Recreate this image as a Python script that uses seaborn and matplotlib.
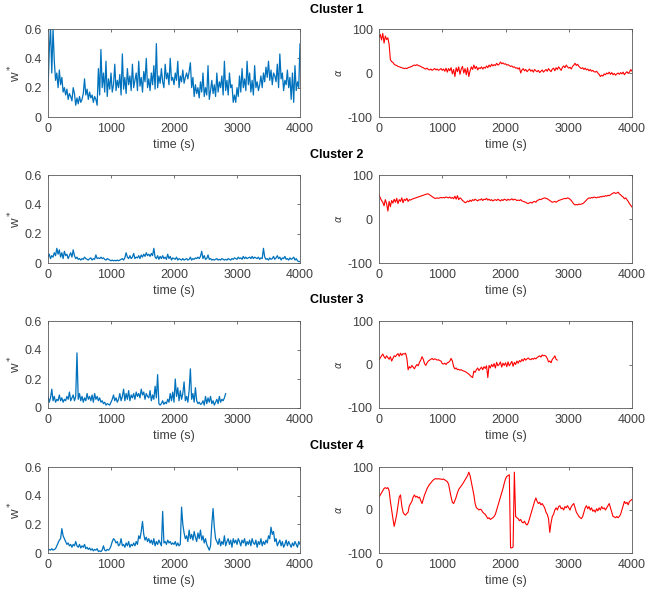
import numpy as np
import pandas as pd
import matplotlib
matplotlib.use("Agg")
import matplotlib.pyplot as plt
import seaborn as sns

# ---------------- data ----------------
t_full = np.arange(0, 4001, 20)
t_c3 = np.arange(0, 2821, 20)

w_c1 = [0.18, 0.45, 0.62, 0.3, 0.6, 0.38, 0.25, 0.3, 0.2, 0.32,
        0.22, 0.27, 0.17, 0.2, 0.15, 0.19, 0.12, 0.16, 0.14, 0.11,
        0.2, 0.16, 0.08, 0.13, 0.09, 0.14, 0.1, 0.12, 0.16, 0.26,
        0.15, 0.19, 0.12, 0.17, 0.13, 0.15, 0.1, 0.14, 0.12, 0.08,
        0.33, 0.15, 0.46, 0.2, 0.3, 0.17, 0.38, 0.14, 0.26, 0.19,
        0.3, 0.17, 0.22, 0.36, 0.18, 0.25, 0.2, 0.29, 0.15, 0.43,
        0.19, 0.27, 0.16, 0.33, 0.22, 0.28, 0.18, 0.36, 0.2, 0.25,
        0.3, 0.18, 0.38, 0.21, 0.27, 0.17, 0.31, 0.24, 0.4, 0.2,
        0.26, 0.18, 0.3, 0.22, 0.35, 0.19, 0.5, 0.2, 0.28, 0.23,
        0.33, 0.24, 0.2, 0.36, 0.26, 0.3, 0.22, 0.4, 0.25, 0.27,
        0.22, 0.3, 0.25, 0.38, 0.2, 0.28, 0.24, 0.32, 0.23, 0.27,
        0.3, 0.26, 0.31, 0.37, 0.2, 0.27, 0.14, 0.22, 0.16, 0.2,
        0.13, 0.24, 0.17, 0.3, 0.14, 0.2, 0.15, 0.35, 0.12, 0.18,
        0.25, 0.16, 0.22, 0.14, 0.3, 0.17, 0.24, 0.2, 0.28, 0.15,
        0.38, 0.18, 0.25, 0.15, 0.3, 0.2, 0.22, 0.1, 0.15, 0.1,
        0.2, 0.14, 0.28, 0.17, 0.33, 0.2, 0.26, 0.18, 0.38, 0.22,
        0.3, 0.17, 0.25, 0.15, 0.35, 0.2, 0.24, 0.18, 0.22, 0.28,
        0.2, 0.3, 0.24, 0.34, 0.27, 0.38, 0.25, 0.32, 0.22, 0.3,
        0.28, 0.24, 0.36, 0.2, 0.43, 0.26, 0.3, 0.18, 0.25, 0.22,
        0.32, 0.2, 0.27, 0.12, 0.3, 0.1, 0.35, 0.18, 0.24, 0.2,
        0.5]

a_c1 = [80, 88, 75, 90, 68, 84, 76, 80, 65, 30,
        26, 24, 20, 18, 17, 15, 14, 13, 12, 11,
        10, 11, 10, 12, 13, 14, 15, 17, 18, 17,
        19, 17, 16, 15, 13, 12, 10, 9, 11, 8,
        7, 9, 6, 8, 10, 7, 9, 6, 8, 10,
        6, 9, 4, 11, 2, 10, 5, 12, -2, 8,
        -8, 12, 3, 14, -3, 9, 15, 0, 10, -4,
        12, -8, 5, 14, 8, 18, 10, 15, 7, 12,
        10, 14, 9, 13, 11, 16, 12, 18, 14, 20,
        16, 19, 17, 22, 18, 20, 25, 21, 23, 20,
        21, 18, 19, 17, 15, 16, 13, 14, 11, 12,
        9, 12, 0, 7, 10, 5, 8, 3, 6, 9,
        4, 7, 2, 8, 5, 3, 6, 1, 4, 7,
        2, 5, 8, 4, 10, 6, 3, 9, 11, 5,
        12, 8, 14, 10, 6, 13, 16, 12, 18, 14,
        11, 13, 9, 15, 18, 22, 17, 20, 15, 12,
        10, 12, 8, 11, 7, 9, 5, 8, 4, 6,
        3, 2, 4, 0, -3, -8, -5, -7, -2, -4,
        0, -2, 2, -3, 1, -4, -1, -5, -2, 0,
        -3, 1, -2, 2, -4, 0, 3, -1, 2, 8,
        4]

w_c2 = [0.04, 0.06, 0.03, 0.05, 0.04, 0.07, 0.05, 0.1, 0.06, 0.09,
        0.04, 0.07, 0.03, 0.08, 0.05, 0.06, 0.03, 0.05, 0.07, 0.04,
        0.09, 0.05, 0.03, 0.04, 0.025, 0.03, 0.02, 0.03, 0.025, 0.04,
        0.03, 0.025, 0.02, 0.03, 0.035, 0.02, 0.03, 0.025, 0.055, 0.03,
        0.035, 0.03, 0.04, 0.03, 0.035, 0.025, 0.02, 0.03, 0.025, 0.02,
        0.015, 0.02, 0.015, 0.018, 0.015, 0.02, 0.015, 0.02, 0.025, 0.03,
        0.02, 0.035, 0.07, 0.04, 0.03, 0.05, 0.03, 0.04, 0.065, 0.03,
        0.04, 0.035, 0.05, 0.03, 0.055, 0.04, 0.06, 0.045, 0.07, 0.05,
        0.06, 0.045, 0.065, 0.05, 0.1, 0.04, 0.03, 0.05, 0.025, 0.045,
        0.03, 0.05, 0.03, 0.04, 0.025, 0.06, 0.03, 0.045, 0.02, 0.035,
        0.03, 0.025, 0.04, 0.02, 0.03, 0.025, 0.02, 0.03, 0.02, 0.025,
        0.03, 0.02, 0.025, 0.04, 0.02, 0.03, 0.025, 0.035, 0.03, 0.04,
        0.03, 0.045, 0.08, 0.03, 0.05, 0.025, 0.03, 0.055, 0.025, 0.03,
        0.02, 0.025, 0.02, 0.025, 0.03, 0.02, 0.025, 0.02, 0.03, 0.025,
        0.02, 0.025, 0.02, 0.03, 0.025, 0.02, 0.03, 0.025, 0.035, 0.03,
        0.025, 0.04, 0.03, 0.035, 0.025, 0.045, 0.03, 0.04, 0.03, 0.035,
        0.04, 0.03, 0.045, 0.03, 0.04, 0.035, 0.03, 0.04, 0.025, 0.035,
        0.03, 0.1, 0.04, 0.025, 0.03, 0.02, 0.035, 0.025, 0.03, 0.045,
        0.025, 0.035, 0.05, 0.03, 0.04, 0.02, 0.035, 0.03, 0.045, 0.025,
        0.03, 0.02, 0.035, 0.025, 0.03, 0.04, 0.02, 0.03, 0.015, 0.01,
        0.01]

a_c2 = [55, 48, 42, 38, 30, 44, 35, 18, 40, 28,
        42, 36, 45, 38, 47, 35, 44, 40, 48, 37,
        45, 42, 47, 40, 44, 43, 45, 46, 47, 48,
        49, 50, 51, 52, 53, 54, 55, 56, 57, 57,
        55, 53, 51, 49, 47, 47, 48, 47, 48, 49,
        48, 49, 48, 50, 49, 48, 50, 47, 49, 46,
        52, 45, 53, 44, 48, 46, 42, 40, 37, 38,
        41, 39, 43, 40, 44, 42, 45, 43, 41, 44,
        43, 46, 42, 45, 44, 47, 43, 45, 42, 44,
        41, 43, 44, 42, 45, 43, 41, 44, 42, 45,
        44, 42, 45, 43, 44, 46, 43, 45, 44, 42,
        43, 42, 44, 41, 40, 39, 38, 36, 35, 37,
        38, 36, 39, 40, 38, 42, 43, 45, 44, 46,
        47, 48, 47, 46, 44, 42, 40, 38, 39, 40,
        38, 40, 42, 43, 44, 45, 46, 47, 46, 48,
        47, 45, 42, 38, 34, 32, 33, 32, 34, 33,
        34, 35, 37, 40, 43, 46, 48, 47, 49, 48,
        50, 49, 48, 50, 49, 51, 50, 52, 51, 53,
        52, 54, 53, 55, 57, 59, 60, 58, 59, 61,
        57, 55, 52, 50, 46, 48, 44, 40, 35, 31,
        27]

w_c3 = [0.08, 0.04, 0.07, 0.13, 0.05, 0.08, 0.04, 0.06, 0.05, 0.09,
        0.05, 0.07, 0.04, 0.06, 0.05, 0.08, 0.06, 0.11, 0.05, 0.07,
        0.09, 0.05, 0.08, 0.38, 0.06, 0.1, 0.05, 0.08, 0.04, 0.07,
        0.05, 0.1, 0.06, 0.08, 0.05, 0.09, 0.04, 0.1, 0.06, 0.08,
        0.05, 0.07, 0.04, 0.05, 0.03, 0.04, 0.02, 0.03, 0.025, 0.02,
        0.04, 0.06, 0.09, 0.05, 0.07, 0.04, 0.06, 0.1, 0.05, 0.08,
        0.13, 0.05, 0.1, 0.06, 0.12, 0.05, 0.09, 0.07, 0.1, 0.06,
        0.11, 0.08, 0.1, 0.07, 0.13, 0.09, 0.11, 0.06, 0.1, 0.08,
        0.07, 0.12, 0.05, 0.09, 0.06, 0.15, 0.07, 0.23, 0.03, 0.02,
        0.03, 0.05, 0.025, 0.04, 0.03, 0.06, 0.04, 0.1, 0.05, 0.11,
        0.04, 0.2, 0.08, 0.14, 0.05, 0.12, 0.06, 0.1, 0.18, 0.05,
        0.08, 0.04, 0.12, 0.27, 0.06, 0.1, 0.04, 0.14, 0.05, 0.03,
        0.04, 0.025, 0.03, 0.05, 0.02, 0.08, 0.03, 0.07, 0.04, 0.08,
        0.03, 0.05, 0.02, 0.04, 0.06, 0.03, 0.08, 0.04, 0.06, 0.05,
        0.07, 0.1]

a_c3 = [10, 15, 20, 24, 18, 14, 20, 16, 12, 18,
        8, 14, 20, 18, 22, 25, 19, 26, 21, 25,
        24, 26, 15, -12, -5, -8, -2, -6, -10, -4,
        0, -3, 5, 10, 18, 12, 2, -2, 4, 8,
        10, 12, 14, 11, 13, 12, 10, 11, 9, 8,
        2, 1, 3, 0, 4, 5, 8, 14, 8, -5,
        -10, -8, -12, -11, -13, -12, -14, -15, -16, -18,
        -20, -22, -25, -28, -30, -15, -18, -12, -8, -14,
        -10, -6, -12, -5, -9, -3, -30, -2, -8, 0,
        -5, 2, -8, 5, -3, 0, 6, -6, 3, -2,
        4, -5, 6, -3, 2, 7, -4, 5, 0, 8,
        3, 9, 6, 12, 8, 14, 10, 13, 15, 12,
        11, 14, 12, 15, 13, 16, 18, 20, 17, 22,
        20, 21, 19, 14, 6, 8, 4, 12, 15, 20,
        12, 10]

w_c4 = [0.02, 0.025, 0.02, 0.03, 0.02, 0.025, 0.03, 0.05, 0.07, 0.09,
        0.1, 0.17, 0.12, 0.1, 0.08, 0.06, 0.07, 0.05, 0.06, 0.04,
        0.06, 0.05, 0.08, 0.05, 0.04, 0.06, 0.035, 0.05, 0.04, 0.06,
        0.03, 0.04, 0.025, 0.035, 0.02, 0.03, 0.015, 0.025, 0.02, 0.03,
        0.01, 0.015, 0.01, 0.02, 0.05, 0.02, 0.015, 0.025, 0.02, 0.03,
        0.05, 0.08, 0.1, 0.09, 0.07, 0.08, 0.05, 0.06, 0.1, 0.05,
        0.06, 0.04, 0.07, 0.05, 0.08, 0.04, 0.06, 0.05, 0.07, 0.05,
        0.08, 0.06, 0.12, 0.1, 0.15, 0.22, 0.13, 0.09, 0.11, 0.08,
        0.1, 0.07, 0.09, 0.06, 0.1, 0.05, 0.08, 0.06, 0.09, 0.07,
        0.05, 0.29, 0.07, 0.08, 0.06, 0.09, 0.07, 0.08, 0.06, 0.07,
        0.06, 0.08, 0.05, 0.07, 0.05, 0.06, 0.32, 0.2, 0.14, 0.1,
        0.12, 0.08, 0.16, 0.1, 0.13, 0.09, 0.15, 0.11, 0.08, 0.14,
        0.1, 0.16, 0.09, 0.12, 0.07, 0.1, 0.06, 0.04, 0.02, 0.05,
        0.2, 0.31, 0.18, 0.1, 0.08, 0.06, 0.1, 0.05, 0.08, 0.06,
        0.12, 0.05, 0.08, 0.1, 0.06, 0.09, 0.04, 0.1, 0.07, 0.09,
        0.06, 0.1, 0.08, 0.05, 0.09, 0.07, 0.1, 0.05, 0.08, 0.06,
        0.09, 0.05, 0.1, 0.07, 0.06, 0.09, 0.04, 0.08, 0.06, 0.1,
        0.05, 0.08, 0.06, 0.09, 0.07, 0.12, 0.1, 0.18, 0.13, 0.15,
        0.08, 0.1, 0.05, 0.07, 0.09, 0.05, 0.08, 0.04, 0.06, 0.09,
        0.05, 0.08, 0.06, 0.04, 0.07, 0.05, 0.08, 0.06, 0.04, 0.08,
        0.06]

a_c4 = [30, 35, 40, 45, 50, 52, 50, 52, 45, 20,
        0, -20, -38, -25, -10, 10, 30, 35, 10, -5,
        -10, -12, -8, -5, 10, 15, 20, 30, 35, 30,
        32, 28, 30, 22, 15, 25, 35, 42, 50, 55,
        60, 63, 67, 70, 72, 73, 72, 73, 72, 72,
        71, 72, 70, 68, 66, 60, 45, 30, 18, 15,
        22, 30, 40, 48, 52, 56, 60, 65, 70, 75,
        80, 88, 80, 65, 50, 35, 15, 5, 3, 0,
        2, 0, -5, -8, -10, -15, -20, -18, -22, -20,
        -18, -15, -10, 0, 10, 20, 30, 40, 50, 62,
        72, 78, 80, 82, -88, -88, -86, 88, -15, -18,
        -20, -25, -22, -28, -30, -26, -32, -35, -30, -20,
        -10, 0, 10, 20, 28, 20, 15, 18, 12, 15,
        10, 5, -5, -10, -20, -52, -30, -15, -10, 0,
        5, 0, 8, 10, 3, 5, 0, 8, 5, 10,
        5, 0, 8, 12, 15, 5, -5, -10, -15, -18,
        -20, -15, -5, 5, 10, 3, 8, 0, 5, -3,
        0, -5, 3, -2, 5, 0, 8, 3, 5, 0,
        5, 10, 15, 5, -5, -15, -16, -18, -15, -18,
        -15, -10, 0, 10, 20, 15, 18, 12, 20, 22,
        25]

cluster_titles = ["Cluster 1", "Cluster 2", "Cluster 3", "Cluster 4"]
w_series = [(t_full, w_c1), (t_full, w_c2), (t_c3, w_c3), (t_full, w_c4)]
a_series = [(t_full, a_c1), (t_full, a_c2), (t_c3, a_c3), (t_full, a_c4)]
w_ticks = [0, 0.2, 0.4, 0.6]
w_ticklabels = ["0", "0.2", "0.4", "0.6"]
a_ticks = [-100, 0, 100]
x_ticks = [0, 1000, 2000, 3000, 4000]

# ---------------- style ----------------
sns.set_style("white")
plt.rcParams["font.family"] = ["Liberation Sans", "DejaVu Sans"]
plt.rcParams["mathtext.fontset"] = "dejavusans"

BLUE = "#0072BD"
RED = "#FF0000"
EDGE = "#404040"

fig = plt.figure(figsize=(6.53, 6.0), dpi=100)
W, H = 653.0, 600.0
rows_px = [(29, 117), (175, 263), (321, 408), (467, 553)]
title_y = [10, 155, 300, 446]
left_x = (48, 300)
right_x = (379, 632)


def style_ax(ax):
    for s in ax.spines.values():
        s.set_color("#5a5a5a")
        s.set_linewidth(0.6)
        s.set_visible(True)
    ax.tick_params(direction="in", length=2.5, width=0.6, colors="#5a5a5a",
                   labelsize=9, top=True, right=True, pad=4.5,
                   labelcolor=EDGE)
    ax.set_xlim(0, 4000)
    ax.set_xticks(x_ticks)
    ax.set_xticklabels([str(v) for v in x_ticks])
    ax.set_xlabel("time (s)", fontsize=9, color=EDGE, labelpad=3)


for i in range(4):
    top, bot = rows_px[i]
    y0 = 1 - bot / H
    h = (bot - top) / H
    axl = fig.add_axes([left_x[0] / W, y0, (left_x[1] - left_x[0]) / W, h])
    axr = fig.add_axes([right_x[0] / W, y0, (right_x[1] - right_x[0]) / W, h])

    tw, vw = w_series[i]
    dfw = pd.DataFrame({"t": tw, "v": vw})
    sns.lineplot(data=dfw, x="t", y="v", ax=axl, color=BLUE, linewidth=0.9)
    axl.set_ylim(0, 0.6)
    axl.set_yticks(w_ticks)
    axl.set_yticklabels(w_ticklabels)
    style_ax(axl)
    axl.set_ylabel("w$^*$", fontsize=9.5, color=EDGE, labelpad=0.5)

    ta, va = a_series[i]
    dfa = pd.DataFrame({"t": ta, "v": va})
    sns.lineplot(data=dfa, x="t", y="v", ax=axr, color=RED, linewidth=0.8)
    axr.set_ylim(-100, 100)
    axr.set_yticks(a_ticks)
    axr.set_yticklabels([str(v) for v in a_ticks])
    style_ax(axr)
    axr.set_ylabel(r"$\alpha$", fontsize=7, color=EDGE, labelpad=2.5)

    fig.text(337 / W, 1 - title_y[i] / H, cluster_titles[i], ha="center",
             va="center", fontsize=9, fontweight="bold", color="black")

fig.savefig("out.png", dpi=100)
